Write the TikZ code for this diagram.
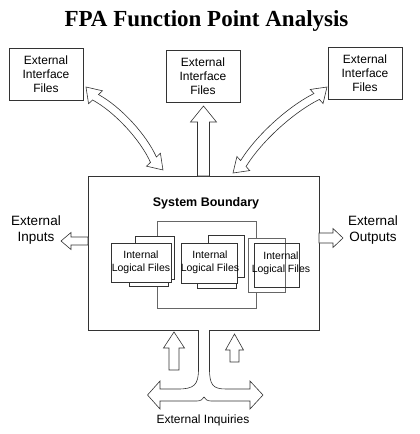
\documentclass[tikz,border=0pt]{standalone}
\usepackage{fontspec}
\setmainfont{Liberation Sans}
\newfontfamily\titlefont{Liberation Serif}
\usetikzlibrary{calc}

\tikzset{
	eifbox/.style={draw=black!80, line width=0.6pt, minimum width=74pt, minimum height=52pt, align=center, inner sep=0pt, font=\fontsize{12}{14}\selectfont},
	sysbox/.style={draw=black!80, line width=0.6pt, minimum width=231pt, minimum height=154pt, inner sep=0pt},
	sidetext/.style={align=center, inner sep=0pt, font=\fontsize{13.5}{16}\selectfont},
	ilftext/.style={align=center, inner sep=0pt, font=\fontsize{10.5}{13}\selectfont},
	page/.style={draw=black!80, fill=white, line width=0.6pt},
	blockarrow/.style={draw=black!80, fill=white, line width=0.6pt, line join=miter},
}

% straight block arrow: from, to, shaft half width, head half width, head length
\newcommand{\straightarrow}[5]{
	\draw[blockarrow] let \p1=(#1), \p2=(#2), \n1={atan2(\y2-\y1,\x2-\x1)}, \n2={veclen(\x2-\x1,\y2-\y1)} in
		{[shift={(\p1)}, rotate=\n1] (0pt,-#3) -- (\n2-#5,-#3) -- (\n2-#5,-#4) -- (\n2,0pt) -- (\n2-#5,#4) -- (\n2-#5,#3) -- (0pt,#3) -- cycle};
}
% bent block arrow with two heads: from, to
\newcommand{\bentarrow}[2]{
	\draw[blockarrow] let \p1=(#1), \p2=(#2), \n1={atan2(\y2-\y1,\x2-\x1)}, \n2={veclen(\x2-\x1,\y2-\y1)} in
		{[shift={(\p1)}, rotate=\n1] (0pt,0pt) -- (14pt,9.5pt) -- (14pt,4pt) .. controls (\n2/3,12pt) and (2*\n2/3,12pt) .. (\n2-14pt,4pt) -- (\n2-14pt,9.5pt) -- (\n2,0pt) -- (\n2-14pt,-9.5pt) -- (\n2-14pt,-4pt) .. controls (2*\n2/3,4pt) and (\n2/3,4pt) .. (14pt,-4pt) -- (14pt,-9.5pt) -- cycle};
}

\begin{document}
\begin{tikzpicture}[x=1pt,y=-1pt]
	\useasboundingbox (0,0) rectangle (420,434);
	\node[font=\titlefont\bfseries\fontsize{23}{26}\selectfont] (title) at (206.5,21) {FPA Function Point Analysis};

	% external interface files
	\node[eifbox] (eifL) at (46,74) {External\\Interface\\Files};
	\node[eifbox] (eifM) at (203,76.5) {External\\Interface\\Files};
	\node[eifbox] (eifR) at (365,73.5) {External\\Interface\\Files};

	\node[sysbox] (boundary) at (203.5,253) {};
	\node[font=\bfseries\fontsize{12.5}{15}\selectfont] (sysname) at (206,203) {System Boundary};

	\coordinate (eifLtip) at (86,87);
	\coordinate (eifLend) at (163,170);
	\coordinate (eifRtip) at (327,87);
	\coordinate (eifRend) at (233,173);
	\coordinate (eifMtip) at (203.5,106);
	\coordinate (eifMend) at (203.5,176);
	\bentarrow{eifLtip}{eifLend}
	\bentarrow{eifRend}{eifRtip}
	\straightarrow{eifMend}{eifMtip}{6pt}{13pt}{16pt}

	% inputs and outputs
	\node[sidetext] (inputs) at (36,230) {External\\Inputs};
	\node[sidetext] (outputs) at (373,230) {External\\Outputs};
	\coordinate (inStart) at (88,241);
	\coordinate (inTip) at (61,241);
	\coordinate (outStart) at (319,238);
	\coordinate (outTip) at (343,238);
	\straightarrow{inStart}{inTip}{4pt}{8.5pt}{10pt}
	\straightarrow{outStart}{outTip}{5pt}{9.5pt}{10pt}

	% inquiries
	\coordinate (qLstart) at (174,370);
	\coordinate (qLtip) at (174,332);
	\coordinate (qRstart) at (234.5,362);
	\coordinate (qRtip) at (234.5,334);
	\straightarrow{qLstart}{qLtip}{5pt}{10.5pt}{16pt}
	\straightarrow{qRstart}{qRtip}{4.5pt}{9pt}{16pt}
	\draw[blockarrow] (198.5,330) -- (198.5,369) .. controls (198.5,385) and (194,389) .. (178,389) -- (160,389) -- (160,381) -- (147.5,395) -- (160,409) -- (160,401) -- (197,401) .. controls (201,401) and (203,399) .. (204,397) .. controls (205,399) and (207,401) .. (211,401) -- (250,401) -- (250,409) -- (263,395) -- (250,381) -- (250,389) -- (226,389) .. controls (213,389) and (209.5,385) .. (209.5,369) -- (209.5,330);
	\node[inner sep=0pt, font=\fontsize{12}{14}\selectfont] (inquiries) at (203,420) {External Inquiries};

	% internal logical files
	\draw[draw=black!60, line width=0.6pt] (157,221) rectangle (256,308);
	\draw[page] (135,236) rectangle (174,279);
	\draw[page] (129,250) rectangle (168,286);
	\draw[page] (111,243) rectangle (171,282);
	\draw[page] (208,235) rectangle (244,277);
	\draw[page] (197,250) rectangle (236,288);
	\draw[page] (181,243) rectangle (237,283);
	\draw[page, draw=black!60] (248,238) rectangle (285,292);
	\draw[page, fill=none] (254,243) rectangle (299,287);
	\node[ilftext] (ilfA) at (141,262.5) {Internal\\Logical Files};
	\node[ilftext] (ilfB) at (210,262.5) {Internal\\Logical Files};
	\node[ilftext] (ilfC) at (281,263) {Internal\\Logical Files};
\end{tikzpicture}
\end{document}
